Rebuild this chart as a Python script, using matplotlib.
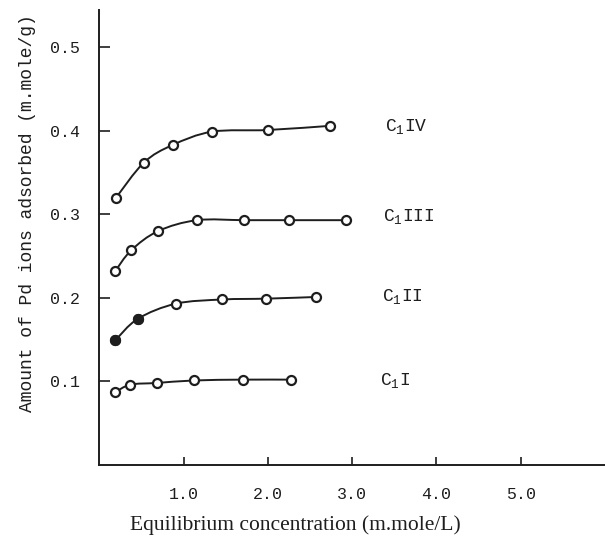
import matplotlib
matplotlib.use("Agg")
import matplotlib.pyplot as plt
from matplotlib.path import Path
from matplotlib.patches import PathPatch

plt.rcParams['mathtext.fontset'] = 'custom'
plt.rcParams['mathtext.tt'] = 'Liberation Mono'
plt.rcParams['mathtext.rm'] = 'Liberation Mono'

# Data
x_c1iv = [0.20, 0.53, 0.87, 1.34, 2.00, 2.74]
y_c1iv = [0.320, 0.362, 0.383, 0.399, 0.401, 0.406]

x_c1iii = [0.19, 0.38, 0.70, 1.16, 1.72, 2.25, 2.93]
y_c1iii = [0.232, 0.257, 0.280, 0.293, 0.293, 0.293, 0.293]

x_c1ii = [0.19, 0.46, 0.91, 1.46, 1.98, 2.57]
y_c1ii = [0.149, 0.175, 0.193, 0.198, 0.199, 0.201]

x_c1i = [0.19, 0.37, 0.68, 1.12, 1.70, 2.27]
y_c1i = [0.087, 0.096, 0.098, 0.101, 0.102, 0.102]

series_labels = [r'$\mathtt{C_{1}IV}$', r'$\mathtt{C_{1}III}$',
                 r'$\mathtt{C_{1}II}$', r'$\mathtt{C_{1}I}$']
label_pos = [(3.39, 0.405), (3.37, 0.297), (3.35, 0.202), (3.33, 0.101)]

x_ticks = [1.0, 2.0, 3.0, 4.0, 5.0]
x_ticklabels = ['1.0', '2.0', '3.0', '4.0', '5.0']
y_ticks = [0.1, 0.2, 0.3, 0.4, 0.5]
y_ticklabels = ['0.1', '0.2', '0.3', '0.4', '0.5']

ink = '#1e1e1e'


def smooth_path(xs, ys):
    """Catmull-Rom curve through the data points, as cubic Bezier segments."""
    pts = list(zip(xs, ys))
    verts = [pts[0]]
    codes = [Path.MOVETO]
    n = len(pts)
    for i in range(n - 1):
        p0 = pts[i - 1] if i > 0 else pts[i]
        p1 = pts[i]
        p2 = pts[i + 1]
        p3 = pts[i + 2] if i + 2 < n else pts[i + 1]
        c1 = (p1[0] + (p2[0] - p0[0]) / 6, p1[1] + (p2[1] - p0[1]) / 6)
        c2 = (p2[0] - (p3[0] - p1[0]) / 6, p2[1] - (p3[1] - p1[1]) / 6)
        verts += [c1, c2, p2]
        codes += [Path.CURVE4] * 3
    return Path(verts, codes)


fig = plt.figure(figsize=(6.05, 5.43), dpi=100)
ax = fig.add_axes([0.164, 0.144, 0.836, 0.838])
ax.set_xlim(0, 6.0)
ax.set_ylim(0, 0.545)

for xs, ys in [(x_c1iv, y_c1iv), (x_c1iii, y_c1iii), (x_c1ii, y_c1ii), (x_c1i, y_c1i)]:
    ax.add_patch(PathPatch(smooth_path(xs, ys), fill=False, edgecolor=ink, lw=1.4))
    ax.plot(xs, ys, 'none', marker='o', ms=6.5, mfc='white', mec=ink, mew=1.6, ls='none')
# filled first points of C1II
ax.plot(x_c1ii[:2], y_c1ii[:2], 'o', color=ink, ms=7, ls='none')

for lab, (lx, ly) in zip(series_labels, label_pos):
    ax.text(lx, ly, lab, fontsize=13, color=ink, va='center', ha='left')

for s in ['top', 'right']:
    ax.spines[s].set_visible(False)
for s in ['left', 'bottom']:
    ax.spines[s].set_color(ink)
    ax.spines[s].set_linewidth(1.4)

ax.set_xticks(x_ticks)
ax.set_xticklabels(x_ticklabels, family='Liberation Mono', fontsize=12)
ax.set_yticks(y_ticks)
ax.set_yticklabels(y_ticklabels, family='Liberation Mono', fontsize=12)
ax.tick_params(axis='x', direction='in', length=6, width=1.2, pad=16, colors=ink)
ax.tick_params(axis='y', direction='in', length=8, width=1.2, pad=14, colors=ink)

ax.set_xlabel('Equilibrium concentration (m.mole/L)', family='Liberation Serif',
              fontsize=15.5, color=ink)
ax.xaxis.set_label_coords(0.387, -0.11)
ax.set_ylabel('Amount of Pd ions adsorbed (m.mole/g)', family='Liberation Mono',
              fontsize=13, color=ink)
ax.yaxis.set_label_coords(-0.125, 0.554)

fig.savefig('out.png', dpi=100, facecolor='white')
